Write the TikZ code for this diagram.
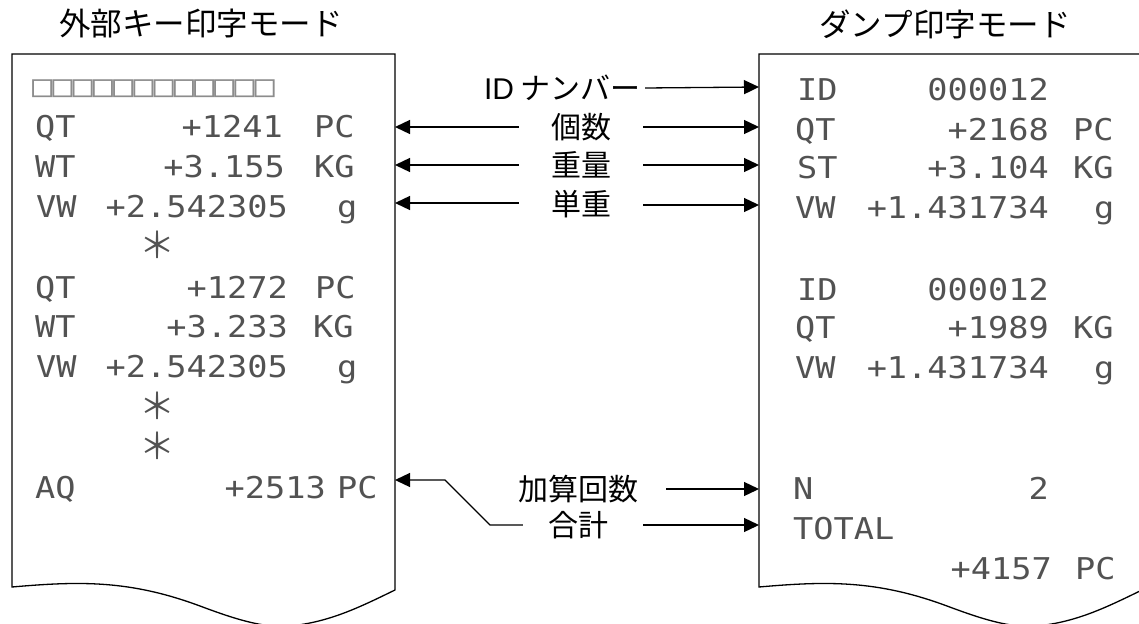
\documentclass[tikz,border=0pt]{standalone}
\usepackage{fontspec}
\newfontfamily\jp{Noto Sans CJK JP}
\newfontfamily\lat{Liberation Sans}
\newfontfamily\dmf[FakeStretch=1.12]{DejaVu Sans Mono}
\usetikzlibrary{arrows.meta}
\tikzset{
  prt/.style={inner sep=0pt, font=\dmf\fontsize{30}{30}\selectfont, text=black!68},
  pw/.style={prt, anchor=base west},
  pe/.style={prt, anchor=base east},
  star/.style={inner sep=0pt, anchor=center, font=\jp\fontsize{36}{36}\selectfont, text=black!68},
  ttl/.style={inner sep=0pt, font=\jp\fontsize{31.5}{32}\selectfont},
  lbl/.style={inner sep=0pt, font=\jp\fontsize{30}{30}\selectfont},
  paper/.style={draw=black, line width=1.3pt},
  arr/.style={line width=1.3pt, -{Triangle[length=15pt,width=14pt]}}
}
\begin{document}
\begin{tikzpicture}[x=1pt,y=-1pt]
\useasboundingbox (0,0) rectangle (1139,623);
% papers
\draw[paper] (12,587) -- (12,54) -- (395,54) -- (395,590)
  .. controls (360,607) and (330,622) .. (290,626)
  .. controls (265,628) and (240,621) .. (200,606)
  .. controls (130,580) and (80,581) .. (12,587) -- cycle;
\begin{scope}[xshift=747]
\draw[paper] (12,587) -- (12,54) -- (395,54) -- (395,590)
  .. controls (360,607) and (330,622) .. (290,626)
  .. controls (265,628) and (240,621) .. (200,606)
  .. controls (130,580) and (80,581) .. (12,587) -- cycle;
\end{scope}
% titles
\node[ttl] (t1) at (201,24) {外部キー印字モード};
\node[ttl] (t2) at (945,24) {ダンプ印字モード};
% left print
\node[pw, text=black!45] (sq) at (32,97) {□□□□□□□□□□□□};
\node[pw] (a1) at (35,137) {QT};
\node[pe] (a2) at (283,137) {+1241};
\node[pw] (a3) at (314,137) {PC};
\node[pw] (b1) at (35,177) {WT};
\node[pe] (b2) at (285,177) {+3.155};
\node[pw] (b3) at (314,177) {KG};
\node[pw] (c1) at (36,217) {VW};
\node[pe] (c2) at (288,217) {+2.542305};
\node[pw] (c3) at (337,217) {g};
\node[star] (s1) at (157,245) {＊};
\node[pw] (d1) at (35,298) {QT};
\node[pe] (d2) at (288,298) {+1272};
\node[pw] (d3) at (315,298) {PC};
\node[pw] (e1) at (35,337) {WT};
\node[pe] (e2) at (288,337) {+3.233};
\node[pw] (e3) at (313,337) {KG};
\node[pw] (f1) at (36,377) {VW};
\node[pe] (f2) at (288,377) {+2.542305};
\node[pw] (f3) at (337,377) {g};
\node[star] (s2) at (157,406) {＊};
\node[star] (s3) at (157,446) {＊};
\node[pw] (g1) at (35,498) {AQ};
\node[pe] (g2) at (326,498) {+2513};
\node[pw] (g3) at (337,498) {PC};
% right print
\node[pw] (r1) at (797,100) {ID};
\node[pe] (r1b) at (1049,100) {000012};
\node[pw] (r2) at (795,140) {QT};
\node[pe] (r2b) at (1049,140) {+2168};
\node[pw] (r2c) at (1073,140) {PC};
\node[pw] (r3) at (797,178) {ST};
\node[pe] (r3b) at (1049,178) {+3.104};
\node[pw] (r3c) at (1073,178) {KG};
\node[pw] (r4) at (795,218) {VW};
\node[pe] (r4b) at (1049,218) {+1.431734};
\node[pw] (r4c) at (1094,218) {g};
\node[pw] (r5) at (797,300) {ID};
\node[pe] (r5b) at (1049,300) {000012};
\node[pw] (r6) at (795,338) {QT};
\node[pe] (r6b) at (1049,338) {+1989};
\node[pw] (r6c) at (1073,338) {KG};
\node[pw] (r7) at (795,378) {VW};
\node[pe] (r7b) at (1049,378) {+1.431734};
\node[pw] (r7c) at (1094,378) {g};
\node[pw] (r8) at (793,499) {N};
\node[pe] (r8b) at (1049,499) {2};
\node[pw] (r9) at (793,539) {TOTAL};
\node[pe] (r10b) at (1052,579) {+4157};
\node[pw] (r10c) at (1075,579) {PC};
% edge coordinates
\coordinate (Rid) at (759,87);
\coordinate (Rqt) at (759,127);
\coordinate (Rwt) at (759,165);
\coordinate (Rvw) at (759,205);
\coordinate (Rn) at (759,489);
\coordinate (Rtot) at (759,525);
\coordinate (Lqt) at (395,127);
\coordinate (Lwt) at (395,165);
\coordinate (Lvw) at (395,203);
\coordinate (Laq) at (395,480);
\coordinate (k1) at (445,480);
\coordinate (k2) at (490,525);
% labels
\node[lbl, anchor=east, inner xsep=4pt] (lid) at (645,88) {{\lat ID} ナンバー};
\node[lbl, minimum width=124] (lqt) at (581,127) {個数};
\node[lbl, minimum width=124] (lwt) at (581,165) {重量};
\node[lbl, minimum width=124] (lvw) at (581,204) {単重};
\node[lbl, minimum width=176] (ln) at (578,489) {加算回数};
\node[lbl, minimum width=130] (ltot) at (578,525) {合計};
% connectors
\draw[arr] (lid.east) -- (Rid);
\draw[arr] (lqt.east) -- (Rqt);
\draw[arr] (lqt.west) -- (Lqt);
\draw[arr] (lwt.east) -- (Rwt);
\draw[arr] (lwt.west) -- (Lwt);
\draw[arr] (lvw.east |- Rvw) -- (Rvw);
\draw[arr] (lvw.west |- Lvw) -- (Lvw);
\draw[arr] (ln.east) -- (Rn);
\draw[arr] (ltot.east) -- (Rtot);
\draw[arr] ([xshift=10pt]ltot.west) -- (k2) -- (k1) -- (Laq);
\end{tikzpicture}
\end{document}
